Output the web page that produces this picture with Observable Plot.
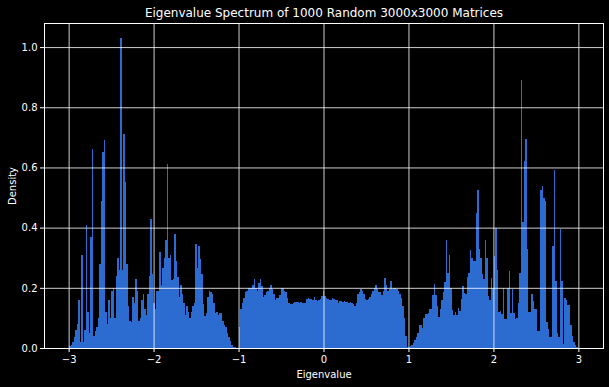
<!DOCTYPE html>
<html>
<head>
<meta charset="utf-8">
<script src="https://cdn.jsdelivr.net/npm/d3@7"></script>
<script src="https://cdn.jsdelivr.net/npm/@observablehq/plot@0.6"></script>
<style>
  html, body { margin: 0; padding: 0; background: #000; }
  #chart svg { display: block; }
</style>
</head>
<body>
<div id="chart"></div>
<script>
// Histogram densities (339 equal bins from -2.99 to 2.99)
const binLo = -2.99;
const binHi = 2.99;
const densities = [
  0.005, 0.01, 0.02, 0.035, 0.06, 0.08, 0.16, 0.02, 0.31, 0.02,
  0.06, 0.41, 0.12, 0.05, 0.37, 0.66, 0.04, 0.055, 0.07, 0.10,
  0.28, 0.49, 0.65, 0.69, 0.12, 0.08, 0.16, 0.10, 0.19, 0.20,
  0.10, 0.24, 0.30, 0.26, 1.03, 0.26, 0.71, 0.55, 0.28, 0.14,
  0.09, 0.085, 0.17, 0.15, 0.23, 0.19, 0.09, 0.10, 0.16, 0.18,
  0.13, 0.11, 0.18, 0.24, 0.43, 0.245, 0.15, 0.13, 0.19, 0.19,
  0.32, 0.21, 0.265, 0.30, 0.36, 0.61, 0.30, 0.31, 0.225, 0.23,
  0.38, 0.29, 0.235, 0.17, 0.21, 0.18, 0.15, 0.11, 0.14, 0.12,
  0.10, 0.12, 0.14, 0.15, 0.345, 0.265, 0.34, 0.295, 0.245, 0.145,
  0.105, 0.115, 0.17, 0.19, 0.185, 0.18, 0.15, 0.115, 0.12, 0.11,
  0.115, 0.115, 0.09, 0.075, 0.07, 0.05, 0.038, 0.023, 0.01, 0.004,
  0.002, 0.001, 0.0, 0.07, 0.13, 0.15, 0.165, 0.185, 0.19, 0.198,
  0.2, 0.2, 0.21, 0.228, 0.2, 0.19, 0.215, 0.23, 0.205, 0.17,
  0.175, 0.185, 0.19, 0.2, 0.21, 0.195, 0.18, 0.16, 0.165, 0.165,
  0.175, 0.2, 0.2, 0.19, 0.185, 0.165, 0.15, 0.145, 0.145, 0.148,
  0.152, 0.153, 0.152, 0.15, 0.153, 0.15, 0.148, 0.15, 0.162, 0.165,
  0.164, 0.162, 0.16, 0.168, 0.16, 0.155, 0.158, 0.164, 0.172, 0.19,
  0.172, 0.165, 0.163, 0.158, 0.16, 0.167, 0.162, 0.16, 0.158, 0.148,
  0.155, 0.156, 0.152, 0.155, 0.152, 0.152, 0.148, 0.152, 0.148, 0.145,
  0.14, 0.148, 0.178, 0.186, 0.197, 0.19, 0.18, 0.162, 0.16, 0.162,
  0.17, 0.178, 0.19, 0.198, 0.21, 0.196, 0.185, 0.185, 0.177, 0.19,
  0.233, 0.21, 0.19, 0.195, 0.224, 0.197, 0.198, 0.198, 0.195, 0.19,
  0.18, 0.165, 0.14, 0.1, 0.04, 0.003, 0.002, 0.005, 0.01, 0.018,
  0.027, 0.035, 0.05, 0.076, 0.075, 0.066, 0.1, 0.113, 0.113, 0.115,
  0.13, 0.13, 0.175, 0.212, 0.175, 0.14, 0.103, 0.13, 0.16, 0.186,
  0.22, 0.36, 0.25, 0.31, 0.2, 0.126, 0.11, 0.12, 0.11, 0.133,
  0.123, 0.162, 0.205, 0.182, 0.18, 0.235, 0.25, 0.325, 0.3, 0.29,
  0.29, 0.45, 0.524, 0.33, 0.3, 0.245, 0.23, 0.358, 0.3, 0.172,
  0.16, 0.232, 0.2, 0.305, 0.4, 0.26, 0.12, 0.123, 0.113, 0.2,
  0.096, 0.096, 0.2, 0.255, 0.116, 0.196, 0.116, 0.096, 0.1, 0.15,
  0.25, 0.89, 0.42, 0.62, 0.693, 0.33, 0.12, 0.12, 0.18, 0.156,
  0.13, 0.13, 0.055, 0.055, 0.524, 0.54, 0.5, 0.49, 0.085, 0.063,
  0.035, 0.035, 0.34, 0.59, 0.224, 0.05, 0.035, 0.395, 0.224, 0.014,
  0.165, 0.16, 0.143, 0.143, 0.076, 0.04, 0.02, 0.01, 0.004
];
const xTicks = [-3, -2, -1, 0, 1, 2, 3];
const yTicks = [0, 0.2, 0.4, 0.6, 0.8, 1.0];
const titleText = "Eigenvalue Spectrum of 1000 Random 3000x3000 Matrices";
const xLabel = "Eigenvalue";
const yLabel = "Density";

const binWidth = (binHi - binLo) / densities.length;
const bins = densities.map((d, i) => ({x1: binLo + i * binWidth, x2: binLo + (i + 1) * binWidth, density: d}));
const fmtX = d => (d < 0 ? "\u2212" + Math.abs(d) : String(d));

const chart = Plot.plot({
  width: 609,
  height: 387,
  marginLeft: 44,
  marginRight: 6,
  marginTop: 23,
  marginBottom: 39,
  style: {background: "#000", color: "#fff", fontFamily: "'DejaVu Sans', sans-serif", fontSize: "10px"},
  x: {domain: [-3.29, 3.29]},
  y: {domain: [0, 1.08]},
  marks: [
    Plot.rectY(bins, {x1: "x1", x2: "x2", y: "density", fill: "#2c6bd0", inset: 0, shapeRendering: "crispEdges"}),
    Plot.gridX(xTicks, {stroke: "#fff", strokeOpacity: 0.8}),
    Plot.gridY(yTicks, {stroke: "#fff", strokeOpacity: 0.8}),
    Plot.frame({stroke: "#fff"}),
    Plot.axisX(xTicks, {tickFormat: fmtX, tickSize: 4, tickPadding: 3, label: null, stroke: "#fff", fill: "#fff"}),
    Plot.axisY(yTicks, {tickFormat: d => d.toFixed(1), tickSize: 4, tickPadding: 3, label: null, stroke: "#fff", fill: "#fff"}),
    Plot.text([titleText], {frameAnchor: "top", lineAnchor: "middle", dy: -10, fontSize: 12, fill: "#fff"}),
    Plot.text([xLabel], {frameAnchor: "bottom", lineAnchor: "middle", dy: 26, fontSize: 10, fill: "#fff"}),
    Plot.text([yLabel], {frameAnchor: "left", textAnchor: "middle", lineAnchor: "middle", dx: -32, rotate: -90, fontSize: 10, fill: "#fff"})
  ]
});
document.getElementById("chart").appendChild(chart);
</script>
</body>
</html>
